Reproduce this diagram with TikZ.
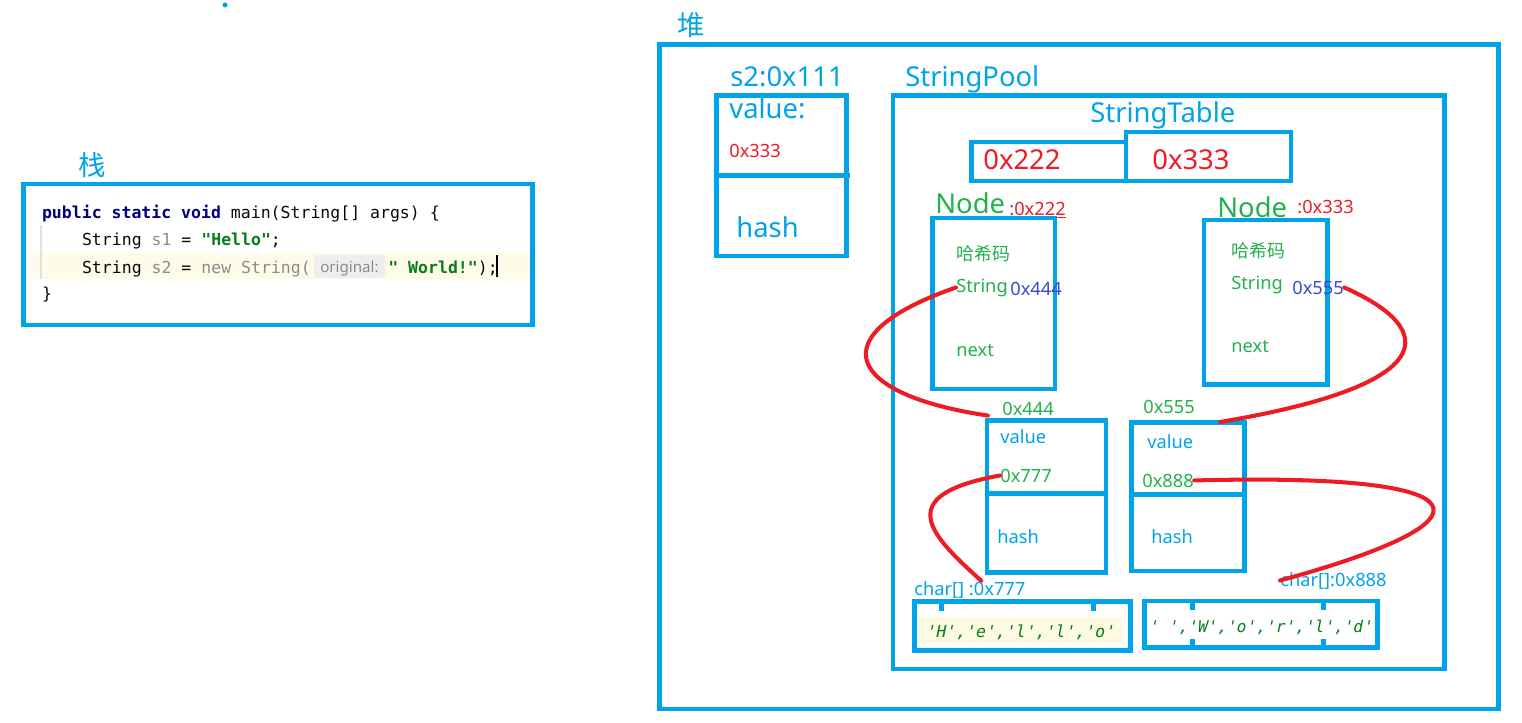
\documentclass[tikz,border=0pt]{standalone}
\usepackage{fontspec}
\setmainfont{Noto Sans}
\setmonofont{DejaVu Sans Mono}
\newfontfamily\cjk{Noto Sans CJK SC}
\newfontfamily\charfont{DejaVu Sans Mono}[FakeSlant=0.2]
\usepackage{tikz}

\definecolor{pblue}{RGB}{0,162,232}
\definecolor{pred}{RGB}{237,28,36}
\definecolor{pgreen}{RGB}{34,177,76}
\definecolor{pref}{RGB}{63,72,204}
\definecolor{kw}{RGB}{0,0,128}
\definecolor{strg}{RGB}{6,125,23}
\definecolor{gry}{RGB}{140,140,140}
\definecolor{codefg}{RGB}{8,8,8}
\definecolor{linebg}{RGB}{254,251,232}
\definecolor{hintbg}{RGB}{238,238,238}
\definecolor{charbg}{RGB}{253,250,228}

\begin{document}
\begin{tikzpicture}[x=0.02cm, y=-0.02cm,
    big/.style={anchor=base west, inner sep=0pt, text=pblue, font=\fontsize{15.6}{18}\selectfont},
    small/.style={anchor=base west, inner sep=0pt, font=\fontsize{10.4}{12}\selectfont},
    code/.style={anchor=base west, inner sep=0pt, text=codefg, font=\ttfamily\fontsize{9.4}{11}\selectfont},
    chars/.style={anchor=base west, inner sep=0pt, text=strg, font=\charfont\fontsize{#1}{11}\selectfont},
    box/.style={draw=pblue, line width=2.8pt},
    link/.style={draw=pred, line width=2.3pt, line cap=round}]
    \useasboundingbox (0,0) rectangle (1522,723);
    \fill[pblue] (225,5) circle (2.5);

    % Stack
    \node[text=pblue, font=\cjk\fontsize{15.6}{18}\selectfont] (stack) at (92,165) {栈};
    \fill[linebg] (32,253) rectangle (530,279);
    \draw[black!12, line width=0.6pt] (41,225) -- (41,279);
    \draw[box] (23.5,184) rectangle (532.5,325);
    \node[code] (ln1) at (41.7,218) {\textcolor{kw}{\bfseries public static void} main(String[] args) \{};
    \node[code] (ln2) at (81.7,245) {String \textcolor{gry}{s1} = \textcolor{strg}{\bfseries "Hello"};};
    \node[code] (ln3) at (81.7,273) {String \textcolor{gry}{s2} = \textcolor{gry}{new String(}};
    \fill[hintbg, rounded corners=2pt] (314,255) rectangle (385,278);
    \node[anchor=base west, inner sep=0pt, text=gry, font=\fontsize{8.6}{10}\selectfont] (hint) at (320,272) {original:};
    \node[code] (ln3b) at (388,273) {\textcolor{strg}{\bfseries " World!"});};
    \draw[black, line width=0.9pt] (497,255) -- (497,277);
    \node[code] (ln4) at (41.7,299) {\}};

    % Heap
    \node[text=pblue, font=\cjk\fontsize{15.6}{18}\selectfont] (heap) at (691,25) {堆};
    \draw[box] (659.5,44.5) rectangle (1498.5,709);

    % s2 object
    \node[big] (s2) at (730,87) {s2:0x111};
    \draw[box] (716.5,95.5) rectangle (846.5,256);
    \draw[box] (716.5,175.5) -- (850,175.5);
    \node[big] (s2val) at (729,119) {value:};
    \node[small, text=pred] (s2ref) at (729,157) {0x333};
    \node[big] (s2hash) at (736,237) {hash};

    % StringPool
    \node[big] (pool) at (905,87) {StringPool};
    \draw[box] (893,95.5) rectangle (1444.5,669);
    \node[big] (table) at (1090,123) {StringTable};
    \draw[box] (971.5,142) rectangle (1126,181);
    \draw[box] (1126,132) rectangle (1291,181);
    \node[big, text=pred] (t1) at (983,170) {0x222};
    \node[big, text=pred] (t2) at (1152,170) {0x333};

    % Node 0x222
    \node[big, text=pgreen] (n1) at (935,214) {Node};
    \node[small, text=pred] (n1addr) at (1009,215) {\textcolor{pref}{:}0x222};
    \draw[pred, line width=0.7pt] ([yshift=-1.6pt]n1addr.base west) -- ([yshift=-1.6pt]n1addr.base east);
    \draw[box] (932.5,218) rectangle (1055,389);
    \node[small, text=pgreen, font=\cjk\fontsize{10.2}{12}\selectfont] (n1hash) at (956,260) {哈希码};
    \node[small, text=pgreen] (n1str) at (956,292) {String};
    \node[small, text=pref] (n1ref) at (1010,295) {0x444};
    \node[small, text=pgreen] (n1next) at (956,356) {next};

    % Node 0x333
    \node[big, text=pgreen] (n2) at (1217,217) {Node};
    \node[small, text=pred] (n2addr) at (1297,214) {:0x333};
    \draw[box] (1204,220) rectangle (1327.5,384.5);
    \node[small, text=pgreen, font=\cjk\fontsize{10.2}{12}\selectfont] (n2hash) at (1231,257) {哈希码};
    \node[small, text=pgreen] (n2str) at (1231,289) {String};
    \node[small, text=pref] (n2ref) at (1292,294) {0x555};
    \node[small, text=pgreen] (n2next) at (1231,352) {next};

    % String 0x444
    \node[small, text=pgreen] (o444) at (1002,415) {0x444};
    \draw[box] (987,420.5) rectangle (1106,572.5);
    \draw[box] (987,493.5) -- (1106,493.5);
    \node[small, text=pblue] (v444) at (1000,443) {value};
    \node[small, text=pgreen] (r777) at (1000,482) {0x777};
    \node[small, text=pblue] (h444) at (997,543) {hash};

    % String 0x555
    \node[small, text=pgreen] (o555) at (1143,413) {0x555};
    \draw[box] (1131.5,422.5) rectangle (1244.5,571);
    \draw[box] (1131.5,494.5) -- (1244.5,494.5);
    \node[small, text=pblue] (v555) at (1147,448) {value};
    \node[small, text=pgreen] (r888) at (1142,487) {0x888};
    \node[small, text=pblue] (h555) at (1151,543) {hash};
    \coordinate (b2top) at (1220,422);

    % char arrays
    \node[small, text=pblue] (c777) at (914,595) {char[] :0x777};
    \fill[charbg] (918,617) rectangle (1123,643);
    \draw[box] (914.5,601.5) rectangle (1130.5,650.5);
    \fill[pblue] (939,601) rectangle (944,611);
    \fill[pblue] (1091,601) rectangle (1096,611);
    \node[chars=9.4] (hello) at (925,637) {'H','e','l','l','o'};

    \node[small, text=pblue] (c888) at (1280,586) {char[]:0x888};
    \draw[box] (1144.5,601) rectangle (1377.5,647.5);
    \fill[pblue] (1189.5,601) rectangle (1194.5,610);
    \fill[pblue] (1320.5,601) rectangle (1325.5,610);
    \fill[pblue] (1189.5,639) rectangle (1194.5,647);
    \fill[pblue] (1320.5,639) rectangle (1325.5,647);
    \node[chars=9.2] (world) at (1148,632) {' ','W','o','r','l','d'};

    % references
    \draw[link] (n1str.west) .. controls +(-141,49) and +(-138,-20) .. ([xshift=-8pt]o444.south west);
    \draw[link] (n2ref.east) .. controls +(96,42.5) and +(220,-37) .. (b2top);
    \draw[link] (r777.west) .. controls +(-110,20) and +(-50,-45) .. ([xshift=6.5pt]c777.north);
    \draw[link] (r888.east) .. controls +(300,-8) and +(220,-60) .. (c888.west);
\end{tikzpicture}
\end{document}
